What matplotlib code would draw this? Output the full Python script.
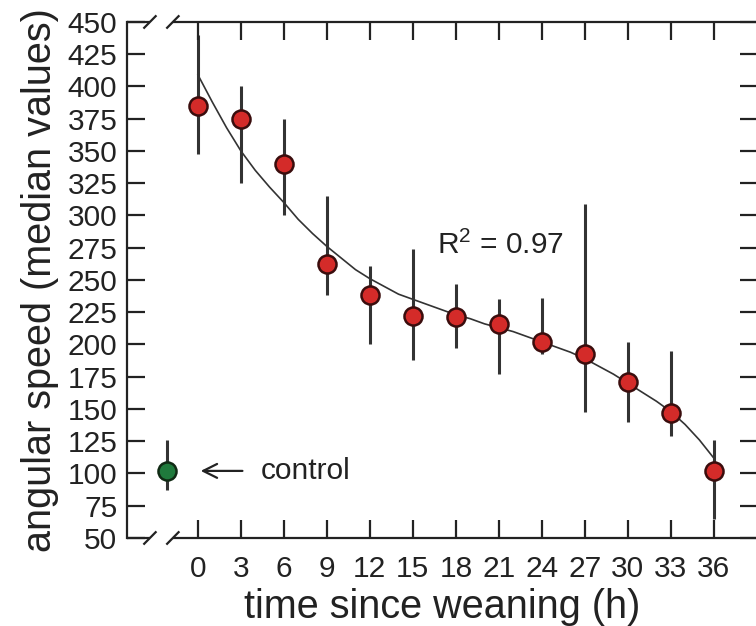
"""
Angular speed vs time since weaning, with control and fitted curve
"""

import matplotlib
import matplotlib.pyplot as plt
matplotlib.use("AGG")

plt.rcParams['font.family'] = ['Liberation Sans', 'DejaVu Sans']
plt.rcParams['mathtext.default'] = 'regular'

# median values
hours = [0, 3, 6, 9, 12, 15, 18, 21, 24, 27, 30, 33, 36]
median = [385, 375, 340, 262, 238, 222, 221, 216, 202, 193, 171, 147, 102]
err_hi = [440, 400, 375, 315, 261, 274, 247, 235, 236, 309, 202, 195, 126]
err_lo = [348, 325, 300, 238, 200, 188, 197, 177, 193, 148, 140, 129, 65]

# control group
ctrl_median = 102
ctrl_hi = 126
ctrl_lo = 87

# fitted curve
fit_x = [0, 1, 2, 3, 4, 5, 6, 7, 8, 9, 10, 11, 12, 13, 14, 15, 16, 17, 18,
         19, 20, 21, 22, 23, 24, 25, 26, 27, 28, 29, 30, 31, 32, 33, 34, 35, 36]
fit_y = [409, 388, 368, 350, 335, 322, 310, 297, 286, 276, 267, 258, 251,
         245, 239, 235, 231, 227, 223, 220, 216, 213, 210, 206, 202, 198,
         194, 189, 183, 177, 170, 163, 156, 148, 138, 126, 112]

x_ticks = [0, 3, 6, 9, 12, 15, 18, 21, 24, 27, 30, 33, 36]
y_ticks = list(range(50, 451, 25))

ctrl_x = -2.15
line_col = '#333333'
ax_col = '#222222'

fig = plt.figure(figsize=(7.56, 6.26), dpi=100)
ax = fig.add_axes([0.168, 0.1406, 0.835, 0.8243])
x_right = 38.95 + 0.003 * 7.56 * 100 / 14.33

# fitted curve
ax.plot(fit_x, fit_y, '-', color=line_col, lw=1.2, zorder=2)

# error bars
lo = [m - l for m, l in zip(median, err_lo)]
hi = [h - m for m, h in zip(median, err_hi)]
ax.errorbar(hours, median, yerr=[lo, hi], fmt='none', ecolor=line_col,
            elinewidth=2.2, capsize=0, zorder=1)
ax.errorbar([ctrl_x], [ctrl_median],
            yerr=[[ctrl_median - ctrl_lo], [ctrl_hi - ctrl_median]],
            fmt='none', ecolor=line_col, elinewidth=2.2, capsize=0, zorder=1)

# markers
ax.plot(hours, median, 'o', ms=13, mfc='#d42b29', mec='#3a0d0d', mew=1.8,
        zorder=3)
ax.plot([ctrl_x], [ctrl_median], 'o', ms=13, mfc='#1f7a3c', mec='#102a14',
        mew=1.8, zorder=3)

ax.set_xlim(-4.95, x_right)
ax.set_ylim(50, 450)
ax.set_xticks(x_ticks)
ax.set_yticks(y_ticks)

ax.tick_params(axis='both', direction='in', labelsize=21.5, width=1.6,
               colors=ax_col)
ax.tick_params(axis='x', top=True, length=13, pad=12)
ax.tick_params(axis='y', right=True, length=13, pad=7)

for s in ['left', 'right']:
    ax.spines[s].set_linewidth(1.6)
    ax.spines[s].set_color(ax_col)

# top/bottom spines with break marks
ax.spines['top'].set_visible(False)
ax.spines['bottom'].set_visible(False)
b1, b2 = -3.35, -1.75
for yv in [50, 450]:
    ax.plot([-4.95, b1], [yv, yv], color=ax_col, lw=1.6, clip_on=False,
            solid_capstyle='butt', zorder=4)
    ax.plot([b2, x_right], [yv, yv], color=ax_col, lw=1.6, clip_on=False,
            solid_capstyle='butt', zorder=4)
    for bx in [b1, b2]:
        ax.plot([bx - 0.4, bx + 0.4], [yv - 4.5, yv + 4.5], color=ax_col,
                lw=1.6, clip_on=False, zorder=4)

ax.annotate('', xy=(0.0, ctrl_median), xytext=(3.3, ctrl_median),
            arrowprops=dict(arrowstyle='->', color=ax_col, lw=1.6,
                            mutation_scale=25))
ax.text(4.4, ctrl_median, 'control', fontsize=21.5, va='center',
        ha='left', color=ax_col)
ax.text(16.7, 277, 'R$^2$ = 0.97', fontsize=21.5, va='center', ha='left',
        color=ax_col)

ax.set_xlabel('time since weaning (h)', fontsize=28.5, labelpad=4,
              color=ax_col)
ax.set_ylabel('angular speed (median values)', fontsize=28.5, labelpad=6,
              color=ax_col)

plt.savefig('out.png', dpi=100)
